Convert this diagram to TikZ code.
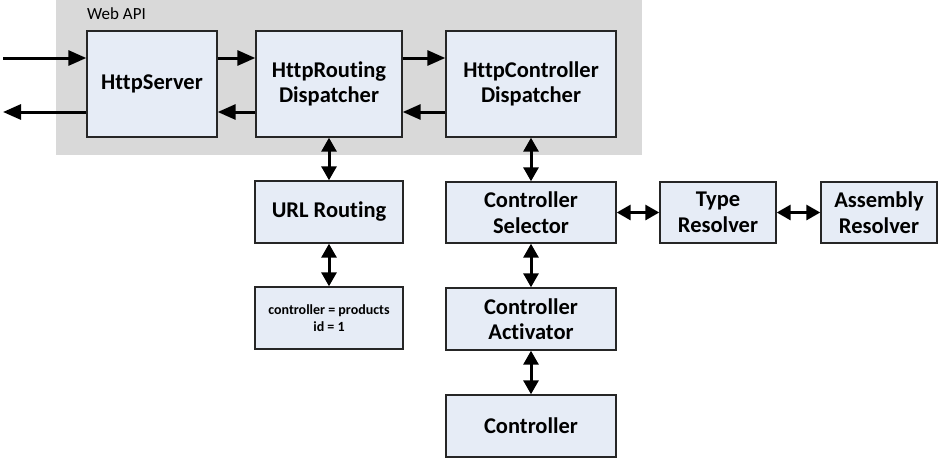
\documentclass[tikz,border=0pt]{standalone}
\usepackage{fontspec}
\setmainfont{Carlito}[Ligatures={NoCommon}]
\usetikzlibrary{arrows.meta}
\definecolor{boxfill}{HTML}{E6ECF6}
\definecolor{apigray}{HTML}{D9D9D9}
\begin{document}
\begin{tikzpicture}[x=1pt,y=-1pt,
  comp/.style={draw=black!85, line width=1.4pt, fill=boxfill, align=center,
    font=\fontsize{22.5}{25.5}\selectfont\bfseries, inner sep=0pt},
  link/.style={line width=3pt, -{Triangle[length=18pt,width=15pt]}},
  dlink/.style={line width=3pt, {Triangle[length=14pt,width=15pt]}-{Triangle[length=14pt,width=15pt]}}]
\useasboundingbox (0,0) rectangle (938,459);
\fill[apigray] (56,0) rectangle (642,155);
\node[anchor=north west, font=\fontsize{17}{19}\selectfont, inner sep=0pt] (webapi) at (87,7) {Web API};
% top row
\node[comp, minimum width=130pt, minimum height=106pt] (server) at (152,84) {HttpServer};
\node[comp, minimum width=146pt, minimum height=106pt] (routing) at (329,84) {HttpRouting\\Dispatcher};
\node[comp, minimum width=170pt, minimum height=106pt] (ctrldisp) at (531,84) {HttpController\\Dispatcher};
% left column
\node[comp, minimum width=148pt, minimum height=62pt] (url) at (329,212) {URL Routing};
\node[comp, minimum width=148pt, minimum height=62pt, font=\fontsize{14}{17}\selectfont\bfseries] (params) at (329,318) {controller = products\\id = 1};
% right column
\node[comp, minimum width=170pt, minimum height=61pt] (selector) at (531,212.5) {Controller\\Selector};
\node[comp, minimum width=116pt, minimum height=61pt] (type) at (718,212.5) {Type\\Resolver};
\node[comp, minimum width=116pt, minimum height=61pt] (assembly) at (879,212.5) {Assembly\\Resolver};
\node[comp, minimum width=170pt, minimum height=62pt] (activator) at (531,319) {Controller\\Activator};
\node[comp, minimum width=170pt, minimum height=62pt] (controller) at (531,426) {Controller};
% external
\coordinate (inL) at (3,58);
\coordinate (outL) at (3,112);
\draw[link] (inL) -- (server.west |- inL);
\draw[link] (server.west |- outL) -- (outL);
\draw[link] (server.east |- inL) -- (routing.west |- inL);
\draw[link] (routing.west |- outL) -- (server.east |- outL);
\draw[link] (routing.east |- inL) -- (ctrldisp.west |- inL);
\draw[link] (ctrldisp.west |- outL) -- (routing.east |- outL);
% vertical
\draw[dlink] (routing.south) -- (url.north);
\draw[dlink] (url.south) -- (params.north);
\draw[dlink] (ctrldisp.south) -- (selector.north);
\draw[dlink] (selector.south) -- (activator.north);
\draw[dlink] (activator.south) -- (controller.north);
% horizontal
\draw[dlink] (selector.east) -- (type.west);
\draw[dlink] (type.east) -- (assembly.west);
\end{tikzpicture}
\end{document}
